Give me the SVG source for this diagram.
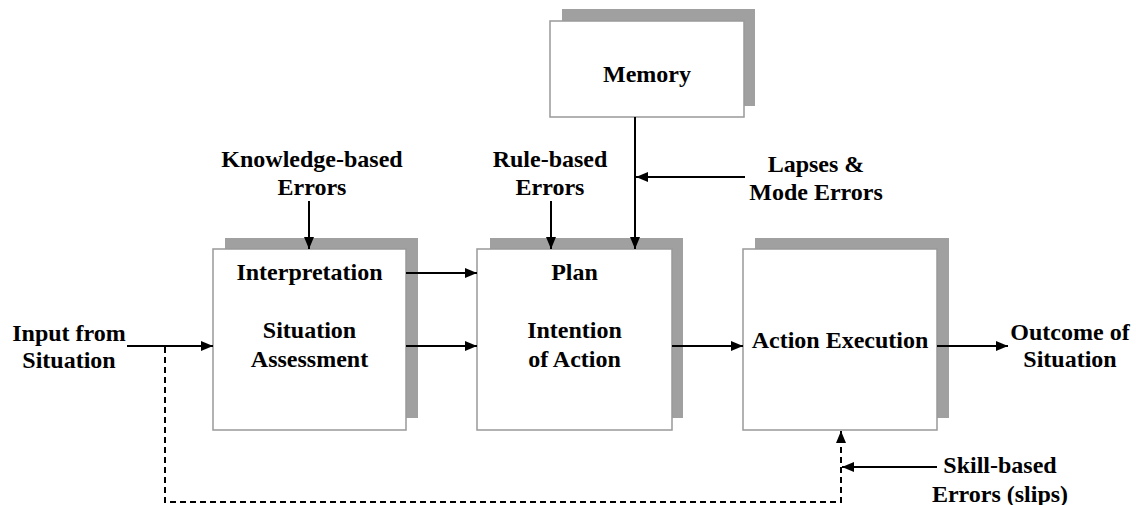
<svg xmlns="http://www.w3.org/2000/svg" width="1136" height="505" viewBox="0 0 1136 505">
<defs>
<marker id="ah" markerUnits="userSpaceOnUse" markerWidth="12" markerHeight="10" refX="12" refY="5" orient="auto">
<path d="M0,0 L12,5 L0,10 Z" fill="#000"/>
</marker>
<style>
.shadow{fill:#a0a0a0;stroke:none}
.box{fill:#fff;stroke:#999;stroke-width:1.5}
text{font-family:"Liberation Serif","Times New Roman",serif;font-weight:bold;font-size:24px;fill:#000;text-anchor:middle}
.ln{stroke:#000;stroke-width:2;fill:none}
.arr{stroke:#000;stroke-width:2;fill:none;marker-end:url(#ah)}
.dash{stroke:#000;stroke-width:2;fill:none;stroke-dasharray:6,4}
</style>
</defs>
<rect width="1136" height="505" fill="#fff"/>
<g id="memory">
<rect class="shadow" x="562" y="9" width="193" height="97"/>
<rect class="box" x="550" y="21" width="194" height="96"/>
<text x="647" y="82">Memory</text>
</g>
<g id="interpretation">
<rect class="shadow" x="225" y="238" width="193" height="180"/>
<rect class="box" x="213" y="249" width="193" height="181"/>
<text x="309.5" y="280">Interpretation</text>
<text x="309.5" y="338">Situation</text>
<text x="309.5" y="367">Assessment</text>
</g>
<g id="plan">
<rect class="shadow" x="490" y="238" width="193" height="180"/>
<rect class="box" x="477" y="249" width="195" height="181"/>
<text x="574.5" y="280">Plan</text>
<text x="574.5" y="338">Intention</text>
<text x="574.5" y="367">of Action</text>
</g>
<g id="action">
<rect class="shadow" x="755" y="238" width="194" height="180"/>
<rect class="box" x="743" y="249" width="194" height="181"/>
<text x="840" y="348">Action Execution</text>
</g>
<g id="labels">
<text x="69" y="341">Input from</text>
<text x="69" y="368">Situation</text>
<text x="1070" y="340">Outcome of</text>
<text x="1070" y="367">Situation</text>
<text x="312" y="167">Knowledge-based</text>
<text x="312" y="195">Errors</text>
<text x="550" y="167">Rule-based</text>
<text x="550" y="195">Errors</text>
<text x="816" y="172">Lapses &amp;</text>
<text x="816" y="200">Mode Errors</text>
<text x="1000" y="473">Skill-based</text>
<text x="1000" y="502">Errors (slips)</text>
</g>
<g id="connectors">
<line class="arr" x1="127" y1="346" x2="213" y2="346"/>
<line class="arr" x1="406" y1="273" x2="477" y2="273"/>
<line class="arr" x1="406" y1="346" x2="477" y2="346"/>
<line class="arr" x1="672" y1="346" x2="743" y2="346"/>
<line class="arr" x1="937" y1="346" x2="1008" y2="346"/>
<line class="arr" x1="309" y1="201" x2="309" y2="249"/>
<line class="arr" x1="551" y1="201" x2="551" y2="249"/>
<line class="arr" x1="635" y1="117" x2="635" y2="249"/>
<line class="arr" x1="745" y1="177" x2="636" y2="177"/>
<path class="dash" d="M165,347 L165,502 L841,502 L841,442"/>
<line class="arr" x1="841" y1="442" x2="841" y2="431"/>
<line class="arr" x1="937" y1="467" x2="842" y2="467"/>
</g>
</svg>
